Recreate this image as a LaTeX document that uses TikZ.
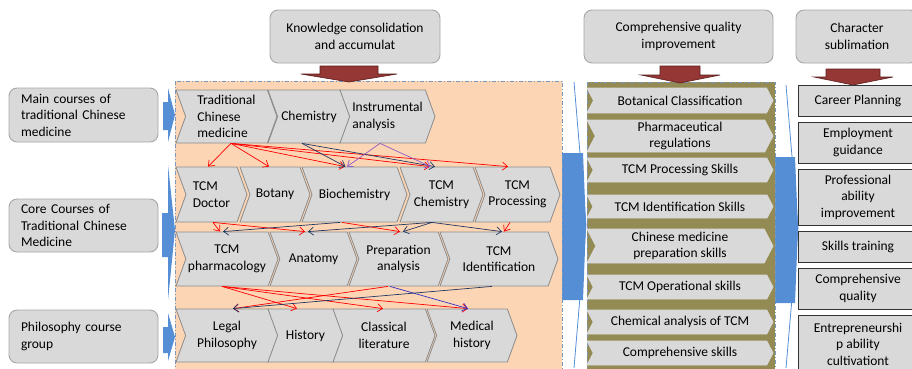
\documentclass[tikz,border=0pt]{standalone}
\usepackage{fontspec}
\setmainfont{Carlito}
\usetikzlibrary{arrows.meta,shapes.symbols}
\definecolor{boxgray}{HTML}{D9D9D9}
\definecolor{boxline}{HTML}{A6A6A6}
\definecolor{chevline}{HTML}{8C8C8C}
\definecolor{peach}{HTML}{FCD5B5}
\definecolor{olive}{HTML}{948A54}
\definecolor{frameblue}{HTML}{7A98BE}
\definecolor{flowblue}{HTML}{558ED5}
\definecolor{dropred}{HTML}{953735}
\definecolor{dropline}{HTML}{5A1F1E}
\definecolor{linkred}{HTML}{FF0000}
\definecolor{linknavy}{HTML}{203864}
\definecolor{linkpurple}{HTML}{8E5CC8}
\definecolor{linkblue}{HTML}{3232C8}

\begin{document}
\begin{tikzpicture}[x=1pt,y=-1pt,>={Straight Barb[length=5pt,width=8pt]},
		font=\fontsize{13.5}{16.5}\selectfont,
		headbox/.style={draw=boxline,fill=boxgray,rounded corners=8pt,line width=0.9pt,align=center,minimum height=53pt,inner sep=2pt},
		coursebox/.style={draw=boxline,fill=boxgray,rounded corners=8pt,line width=0.9pt,align=left,minimum width=149pt,text width=125pt,inner sep=2pt},
		chevbox/.style={signal,signal from=west,signal to=east,signal pointer angle=140,draw=chevline,fill=boxgray,line width=0.8pt,align=center,inner sep=1pt},
		skillbox/.style={signal,signal from=west,signal to=east,signal pointer angle=125,draw=white!70!gray,fill=boxgray,line width=0.8pt,align=center,minimum width=186pt,inner sep=0.5pt},
		goalbox/.style={draw=black!80,fill=boxgray,line width=0.8pt,align=center,minimum width=120pt,inner sep=1pt},
		stageframe/.style={draw=frameblue,line width=0.8pt,dash pattern=on 4pt off 2pt on 1pt off 2pt},
		droparrow/.style={draw=dropline,fill=dropred,line width=0.6pt},
		redlink/.style={->,draw=linkred,line width=0.7pt},
		navylink/.style={->,draw=linknavy,line width=0.7pt},
		purplelink/.style={->,draw=linkpurple,line width=0.7pt},
		bluelink/.style={->,draw=linkblue,line width=0.7pt}]
				\useasboundingbox (0,0) rectangle (912,368);
				\fill[flowblue] (562,153) -- (583,153) -- (586,225) -- (583,300) -- (562,300) -- cycle;
				\draw[flowblue,line width=0.8pt] (574,82) -- (586,225) -- (574,368);
				\fill[flowblue] (775,157) -- (795,157) -- (798,228) -- (795,303) -- (775,303) -- cycle;
				\draw[flowblue,line width=0.8pt] (786,85) -- (798,228) -- (786,368);
				\path[stageframe,fill=peach] (175,81) rectangle (562,372);
				\path[stageframe,fill=olive] (587,82) rectangle (775,372);
				\fill[flowblue] (163,102) -- (168,102) -- (168,88) -- (175,115) -- (168,142) -- (168,130) -- (163,130) -- cycle;
				\fill[flowblue] (162,213) -- (168,213) -- (168,165) -- (175,230) -- (168,300) -- (168,257) -- (162,257) -- cycle;
				\fill[flowblue] (163,327) -- (168,327) -- (168,313) -- (175,337) -- (168,361) -- (168,353) -- (163,353) -- cycle;
				\node[headbox,minimum width=170pt] (know) at (355,36.5) {Knowledge consolidation\\and accumulat};
				\node[headbox,minimum width=189pt] (qual) at (678.5,36.5) {Comprehensive quality\\improvement};
				\node[headbox,minimum width=122pt] (char) at (857,36.5) {Character\\sublimation};
				\draw[droparrow] (320,66) -- (378,66) -- (378,74) -- (397,74) -- (349,82) -- (301,74) -- (320,74) -- cycle;
				\draw[droparrow] (660,66) -- (700,66) -- (700,75) -- (720,75) -- (680,83) -- (641,75) -- (660,75) -- cycle;
				\draw[droparrow] (826,69) -- (880,69) -- (880,77) -- (893,77) -- (853,85) -- (814,77) -- (826,77) -- cycle;
				\node[coursebox,minimum height=54pt] (maincs) at (83.5,115) {Main courses of\\traditional Chinese\\medicine};
				\node[coursebox,minimum height=53pt] (corecs) at (83.5,225.5) {Core Courses of\\Traditional Chinese\\Medicine};
				\node[coursebox,minimum height=53pt] (philcs) at (83.5,336.5) {Philosophy course\\group};
				\node[chevbox,minimum width=101pt,minimum height=53pt,align=left] (tcmed) at (226.5,116.5) {Traditional\\Chinese\\medicine};
				\node[chevbox,minimum width=82pt,minimum height=53pt] (chem) at (309,116.5) {Chemistry};
				\node[chevbox,minimum width=95pt,minimum height=53pt,align=left] (instr) at (387.5,116.5) {Instrumental\\analysis};
				\node[chevbox,minimum width=71pt,minimum height=55pt,align=left] (doctor) at (211.5,194.5) {TCM\\Doctor};
				\node[chevbox,minimum width=70pt,minimum height=55pt] (botany) at (275,194.5) {Botany};
				\node[chevbox,minimum width=105pt,minimum height=55pt] (biochem) at (354.5,194.5) {Biochemistry};
				\node[chevbox,minimum width=83pt,minimum height=55pt] (tcmchem) at (441.5,194.5) {TCM\\Chemistry};
				\node[chevbox,minimum width=85pt,minimum height=55pt] (tcmproc) at (517.5,194.5) {TCM\\Processing};
				\node[chevbox,minimum width=102pt,minimum height=54pt] (pharm) at (227,259) {TCM\\pharmacology};
				\node[chevbox,minimum width=87pt,minimum height=54pt] (anatomy) at (313.5,259) {Anatomy};
				\node[chevbox,minimum width=99pt,minimum height=54pt] (prep) at (398.5,259) {Preparation\\analysis};
				\node[chevbox,minimum width=118pt,minimum height=54pt] (ident) at (499,259) {TCM\\Identification};
				\node[chevbox,minimum width=102pt,minimum height=53pt] (legal) at (227,335.5) {Legal\\Philosophy};
				\node[chevbox,minimum width=75pt,minimum height=53pt] (history) at (305.5,335.5) {History};
				\node[chevbox,minimum width=102pt,minimum height=53pt] (classic) at (384,335.5) {Classical\\literature};
				\node[chevbox,minimum width=90pt,minimum height=53pt] (medhist) at (472,335.5) {Medical\\history};
				\node[skillbox,minimum height=25pt] (botsk) at (680,100.5) {Botanical Classification};
				\node[skillbox,minimum height=32pt] (regsk) at (680,136) {Pharmaceutical\\regulations};
				\node[skillbox,minimum height=24pt] (procsk) at (680,170) {TCM Processing Skills};
				\node[skillbox,minimum height=23pt] (identsk) at (680,206.5) {TCM Identification Skills};
				\node[skillbox,minimum height=34pt] (prepsk) at (680,246) {Chinese medicine\\preparation skills};
				\node[skillbox,minimum height=24pt] (opsk) at (680,287) {TCM Operational skills};
				\node[skillbox,minimum height=24pt] (chemsk) at (680,322) {Chemical analysis of TCM};
				\node[skillbox,minimum height=24pt] (compsk) at (680,353) {Comprehensive skills};
				\node[goalbox,minimum height=31pt] (career) at (858,100.5) {Career Planning};
				\node[goalbox,minimum height=41pt] (employ) at (858,142.5) {Employment\\guidance};
				\node[goalbox,minimum height=56pt] (profab) at (858,197) {Professional\\ability\\improvement};
				\node[goalbox,minimum height=31pt] (skilltr) at (858,246.5) {Skills training};
				\node[goalbox,minimum height=41pt] (compq) at (858,288.5) {Comprehensive\\quality};
				\node[goalbox,minimum height=58pt] (entre) at (858,344) {Entrepreneurshi\\p ability\\cultivationt};
				\draw[redlink] ([xshift=4.5pt]tcmed.south) -- ([xshift=-3.5pt]doctor.north);
				\draw[redlink] ([xshift=4.5pt]tcmed.south) -- ([xshift=-6pt]botany.north);
				\draw[redlink] ([xshift=4.5pt]tcmed.south) -- ([xshift=-9.5pt]biochem.north);
				\draw[redlink] ([xshift=4.5pt]tcmed.south) -- ([xshift=-11.5pt]tcmchem.north);
				\draw[redlink] ([xshift=4.5pt]tcmed.south) -- ([xshift=-9.5pt]tcmproc.north);
				\draw[navylink] ([xshift=-7pt]chem.south) -- ([xshift=-9pt]biochem.north);
				\draw[navylink] ([xshift=-7pt]chem.south) -- ([xshift=-6.5pt]tcmchem.north);
				\draw[purplelink] ([xshift=-7.5pt]instr.south) -- ([xshift=-7.5pt]biochem.north);
				\draw[purplelink] ([xshift=-7.5pt]instr.south) -- ([xshift=-11pt]tcmchem.north);
				\draw[redlink] ([xshift=1.5pt]doctor.south) -- ([xshift=-7pt]pharm.north);
				\draw[redlink] ([xshift=1.5pt]doctor.south) -- ([xshift=-8.5pt]anatomy.north);
				\draw[navylink] ([xshift=-14.5pt]biochem.south) -- ([xshift=-4pt]pharm.north);
				\draw[redlink] ([xshift=-12.5pt]biochem.south) -- ([xshift=1.5pt]prep.north);
				\draw[navylink] ([xshift=-9.5pt]tcmchem.south) -- ([xshift=-5.5pt]anatomy.north);
				\draw[navylink] ([xshift=-9.5pt]tcmchem.south) -- ([xshift=4.5pt]prep.north);
				\draw[navylink] ([xshift=-9.5pt]tcmchem.south) -- ([xshift=3pt]ident.north);
				\draw[redlink] ([xshift=-7.5pt]tcmproc.south) -- ([xshift=5pt]ident.north);
				\draw[redlink] ([xshift=-5pt]pharm.south) -- ([xshift=-8.5pt]history.north);
				\draw[redlink] ([xshift=-5pt]pharm.south) -- ([xshift=-1pt]classic.north);
				\draw[redlink] ([xshift=-5pt]pharm.south) -- ([xshift=-4pt]medhist.north);
				\draw[redlink] ([xshift=-10.5pt]prep.south) -- ([xshift=6pt]legal.north);
				\draw[bluelink] ([xshift=-8.5pt]prep.south) -- ([xshift=-4pt]medhist.north);
				\draw[navylink] ([xshift=-7pt]ident.south) -- ([xshift=6pt]legal.north);
		\end{tikzpicture}
\end{document}
